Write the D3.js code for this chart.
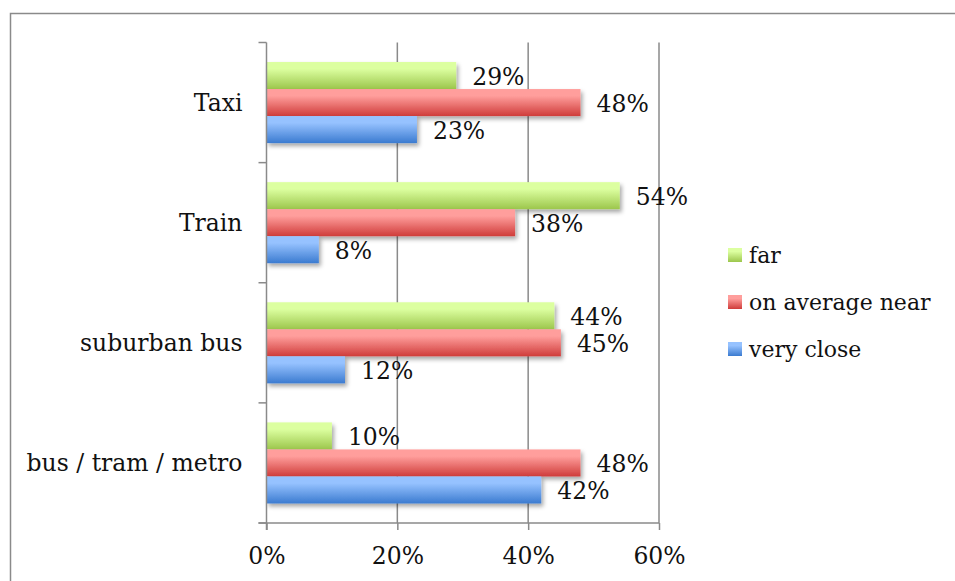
<!DOCTYPE html>
<html>
<head>
<meta charset="utf-8">
<script src="https://cdn.jsdelivr.net/npm/d3@7/dist/d3.min.js"></script>
<style>
  html, body { margin: 0; padding: 0; background: #fff; }
  svg { display: block; }
  text { font-family: "DejaVu Serif", serif; fill: #111; }
</style>
</head>
<body>
<svg id="chart" width="955" height="581"></svg>
<script>
// Categories listed top to bottom
const categories = ["Taxi", "Train", "suburban bus", "bus / tram / metro"];
const seriesNames = ["far", "on average near", "very close"];
const far = [29, 54, 44, 10];
const averageNear = [48, 38, 45, 48];
const veryClose = [23, 8, 12, 42];
const xTicks = [0, 20, 40, 60];

const series = [
  { name: seriesNames[0], values: far, top: "#dcffa0", bottom: "#9cc64c" },
  { name: seriesNames[1], values: averageNear, top: "#ff9e9c", bottom: "#cf3c3a" },
  { name: seriesNames[2], values: veryClose, top: "#96c2ff", bottom: "#3b7bd0" }
];

const svg = d3.select("#chart");
const fontSize = 23.5;
const legendFontSize = 22;

// outer frame
svg.append("rect")
  .attr("x", 10.5).attr("y", 13.5)
  .attr("width", 1000).attr("height", 1000)
  .attr("fill", "none").attr("stroke", "#8a8a8a").attr("stroke-width", 1.5);

const defs = svg.append("defs");
series.forEach((s, i) => {
  const g = defs.append("linearGradient")
    .attr("id", "grad" + i).attr("x1", 0).attr("y1", 0).attr("x2", 0).attr("y2", 1);
  g.append("stop").attr("offset", "0%").attr("stop-color", s.top);
  g.append("stop").attr("offset", "25%").attr("stop-color", s.top);
  g.append("stop").attr("offset", "100%").attr("stop-color", s.bottom);
});
const shadow = defs.append("filter").attr("id", "shadow")
  .attr("x", "-10%").attr("y", "-30%").attr("width", "130%").attr("height", "190%");
shadow.append("feDropShadow")
  .attr("dx", 2).attr("dy", 3).attr("stdDeviation", 2.2)
  .attr("flood-color", "#000").attr("flood-opacity", 0.35);

const plot = { left: 266.5, right: 659, top: 42.5, bottom: 523 };

const x = d3.scaleLinear().domain([0, 60]).range([plot.left, plot.right]);
const y = d3.scaleBand().domain(categories).range([plot.top, plot.bottom]);
// the three bars of a category sit in the middle two thirds of its band
const groupInset = y.bandwidth() * 0.1625;
const inner = d3.scaleBand().domain(seriesNames).range([groupInset, y.bandwidth() - groupInset]);

// vertical gridlines
svg.append("g")
  .selectAll("line")
  .data(xTicks.filter(t => t > 0))
  .join("line")
  .attr("x1", d => x(d)).attr("x2", d => x(d))
  .attr("y1", plot.top).attr("y2", plot.bottom)
  .attr("stroke", "#8a8a8a").attr("stroke-width", 1.5);

// bars
const barLayer = svg.append("g");
categories.forEach((cat, ci) => {
  series.forEach((s, si) => {
    barLayer.append("rect")
      .attr("x", x(0))
      .attr("y", y(cat) + inner(s.name))
      .attr("width", x(s.values[ci]) - x(0))
      .attr("height", inner.bandwidth())
      .attr("fill", `url(#grad${si})`)
      .attr("filter", "url(#shadow)");
  });
});

// x axis
const xAxis = svg.append("g")
  .attr("transform", `translate(0,${plot.bottom})`)
  .call(d3.axisBottom(x).tickValues(xTicks).tickSize(7).tickSizeOuter(0).tickPadding(17).tickFormat(d => d + "%"));
xAxis.select(".domain").attr("d", `M${plot.left - 8},0H${plot.right}`);
xAxis.selectAll("line, path").attr("stroke", "#8a8a8a").attr("stroke-width", 1.5);
xAxis.selectAll("text").attr("font-size", fontSize).attr("font-family", "DejaVu Serif").attr("fill", "#111");

// y axis with tick marks at band boundaries
const yAxis = svg.append("g").attr("transform", `translate(${plot.left},0)`);
yAxis.append("line")
  .attr("x1", 0).attr("x2", 0).attr("y1", plot.top).attr("y2", plot.bottom + 7)
  .attr("stroke", "#8a8a8a").attr("stroke-width", 1.5);
const bounds = categories.map(c => y(c)).concat([plot.bottom]);
yAxis.selectAll("line.tick")
  .data(bounds)
  .join("line")
  .attr("class", "tick")
  .attr("x1", -8).attr("x2", 0)
  .attr("y1", d => d).attr("y2", d => d)
  .attr("stroke", "#8a8a8a").attr("stroke-width", 1.5);
yAxis.selectAll("text")
  .data(categories)
  .join("text")
  .attr("x", -24)
  .attr("y", d => y(d) + y.bandwidth() / 2)
  .attr("dy", "0.35em")
  .attr("text-anchor", "end")
  .attr("font-size", fontSize)
  .text(d => d);

// value labels
categories.forEach((cat, ci) => {
  series.forEach((s) => {
    svg.append("text")
      .attr("x", x(s.values[ci]) + 16)
      .attr("y", y(cat) + inner(s.name) + inner.bandwidth() / 2 + 1)
      .attr("dy", "0.35em")
      .attr("font-size", fontSize)
      .text(s.values[ci] + "%");
  });
});

// legend
const legend = svg.append("g").attr("transform", "translate(728,248)");
series.forEach((s, i) => {
  const row = legend.append("g").attr("transform", `translate(0,${i * 47})`);
  row.append("rect").attr("width", 14).attr("height", 14).attr("fill", `url(#grad${i})`);
  row.append("text")
    .attr("x", 21).attr("y", 7).attr("dy", "0.35em")
    .attr("font-size", legendFontSize)
    .text(s.name);
});
</script>
</body>
</html>
